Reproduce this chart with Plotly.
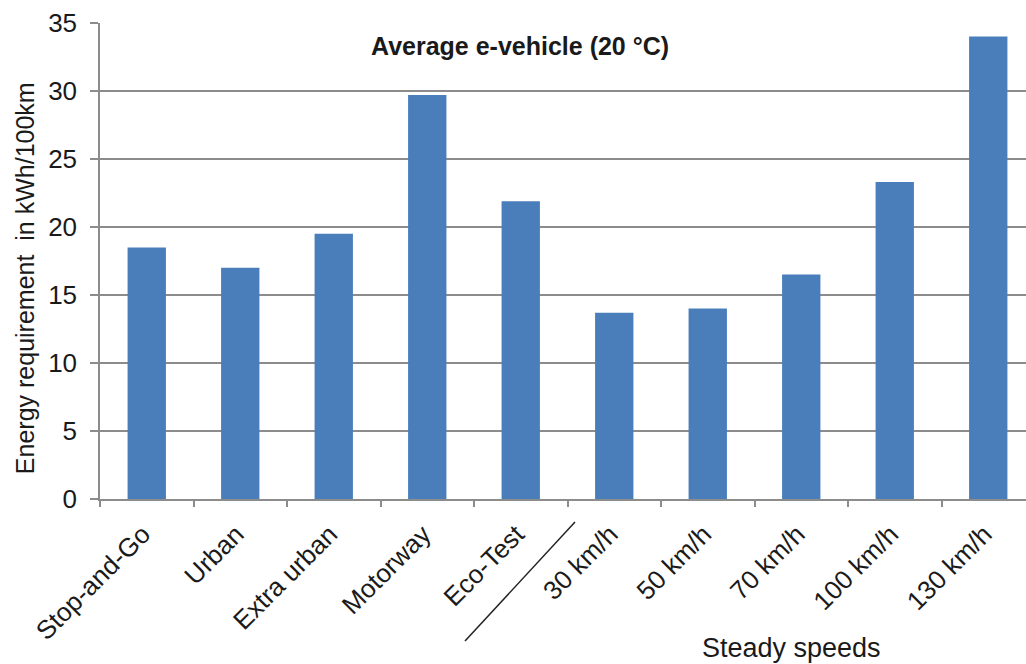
import plotly.graph_objects as go

# Energy demand per driving cycle / steady speed
categories = ["Stop-and-Go", "Urban", "Extra urban", "Motorway", "Eco-Test",
              "30 km/h", "50 km/h", "70 km/h", "100 km/h", "130 km/h"]
energy_kwh_per_100km = [18.5, 17.0, 19.5, 29.7, 21.9, 13.7, 14.0, 16.5, 23.3, 34.0]
y_ticks = [0, 5, 10, 15, 20, 25, 30, 35]

BAR = "#4a7ebb"
GRID = "#8c8c8c"
TXT = "#1a1a1a"
FONT = "Liberation Sans, Arial, sans-serif"

# plot area: 100..1026 px wide, each category slot ~93.5 px (last slot runs past the edge)
X_RANGE = [-0.5, -0.5 + 926 / 93.5]

fig = go.Figure(go.Bar(
    x=categories,
    y=energy_kwh_per_100km,
    marker=dict(color=BAR, line=dict(width=0)),
    width=0.41,
))

fig.update_layout(
    width=1026, height=664,
    margin=dict(l=100, r=0, t=23, b=165, autoexpand=False),
    paper_bgcolor="white", plot_bgcolor="white",
    showlegend=False,
    font=dict(family=FONT, color=TXT),
)

fig.update_xaxes(
    type="category",
    range=X_RANGE,
    tickangle=-45,
    tickfont=dict(size=26, color=TXT),
    showgrid=False,
    showline=True, linecolor=GRID, linewidth=1.5,
    ticks="outside", ticklen=6, tickcolor=GRID, tickwidth=1.5,
    tickson="boundaries",
    ticklabelstandoff=8,
    ticklabelshift=-4,
    automargin=False,
)

fig.update_yaxes(
    range=[0, 35],
    tickvals=y_ticks,
    tickfont=dict(size=26, color=TXT),
    showgrid=True, gridcolor=GRID, gridwidth=1.5,
    showline=True, linecolor=GRID, linewidth=1.5,
    ticks="outside", ticklen=8, tickcolor=GRID, tickwidth=1.5,
    zeroline=False,
    ticklabelstandoff=8,
    automargin=False,
)

PW, PH = 926, 476  # plot area in px, used to place the free text

fig.add_annotation(
    text="Energy requirement  in kWh/100km",
    xref="paper", yref="paper", x=0, y=0.464,
    xshift=-75, textangle=-90, showarrow=False,
    font=dict(size=25, color=TXT), xanchor="center", yanchor="middle",
)
fig.add_annotation(
    text="<b>Average e-vehicle (20 °C)</b>",
    xref="paper", yref="paper", x=(520 - 100) / PW, y=(499 - 46) / PH,
    showarrow=False, font=dict(size=25, color=TXT),
    xanchor="center", yanchor="middle",
)
fig.add_annotation(
    text="Steady speeds",
    xref="paper", yref="paper", x=(791 - 100) / PW, y=-(648 - 499) / PH,
    showarrow=False, font=dict(size=27, color=TXT),
    xanchor="center", yanchor="middle",
)

# Divider between the driving cycles and the steady-speed group
fig.add_shape(
    type="line", xref="paper", yref="paper",
    x0=(465 - 100) / PW, y0=-(641 - 499) / PH,
    x1=(575 - 100) / PW, y1=-(522 - 499) / PH,
    line=dict(color="#222222", width=1.5),
)

fig.write_html("out.html")
